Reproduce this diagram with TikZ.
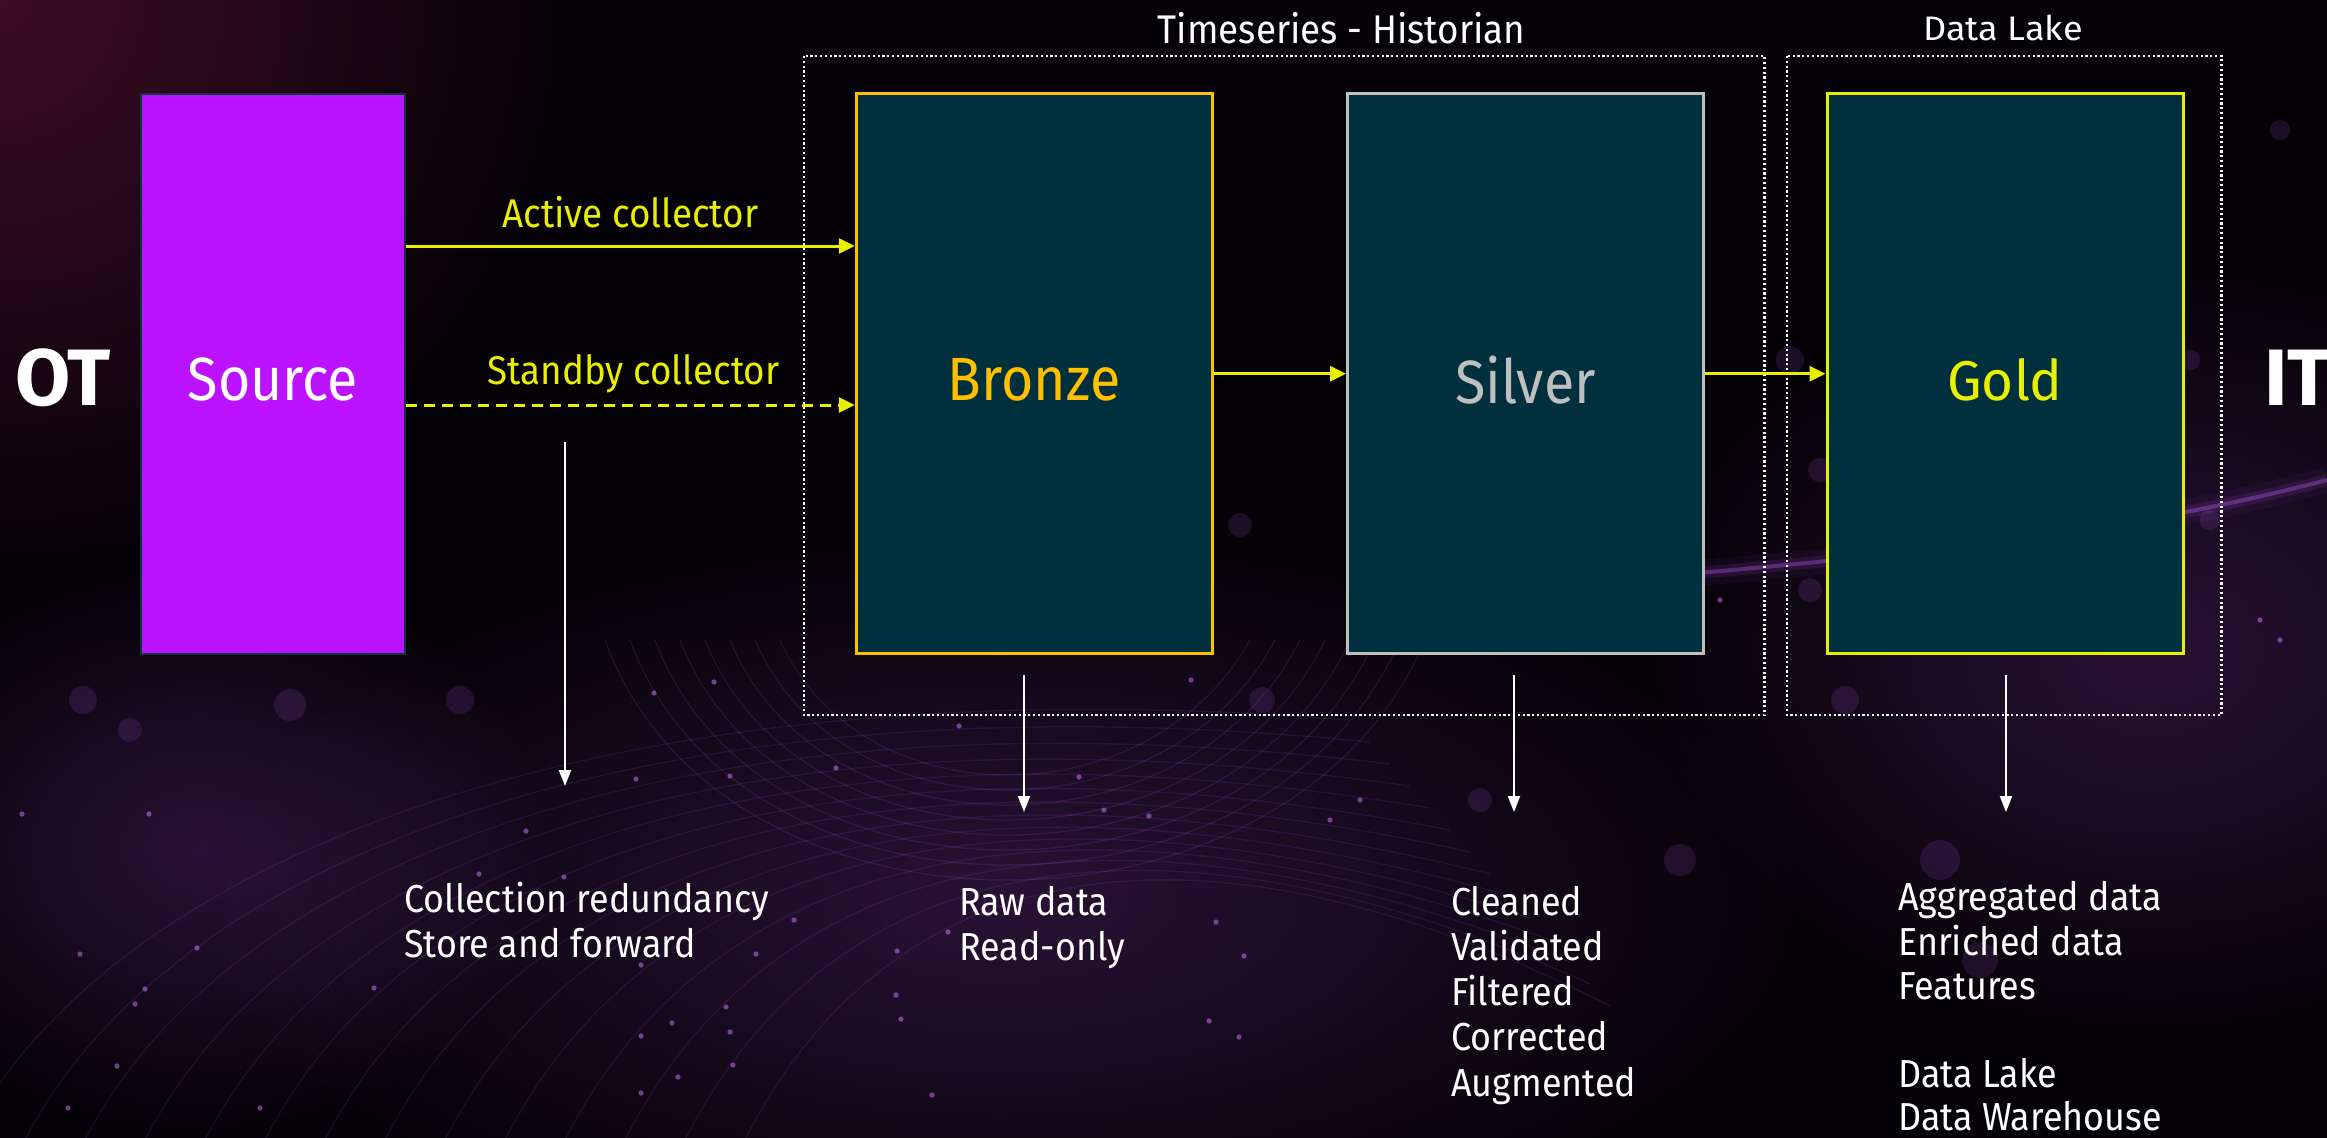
\documentclass[tikz,border=0pt]{standalone}
\usepackage{fontspec}
\setmainfont{Fira Sans}
\newfontfamily\lblfont[FakeStretch=0.92]{Fira Sans}
\newfontfamily\boxfont[FakeStretch=0.91]{Fira Sans}
\newfontfamily\goldfont[FakeStretch=0.98]{Fira Sans}
\newfontfamily\titlefont[FakeStretch=1.06]{Fira Sans}
\usetikzlibrary{arrows.meta}
\definecolor{bg}{HTML}{050207}
\definecolor{srcfill}{HTML}{BB13FF}
\definecolor{srcline}{HTML}{0E3440}
\definecolor{tealfill}{HTML}{00303D}
\definecolor{amber}{HTML}{FFC000}
\definecolor{silv}{HTML}{BFBFBF}
\definecolor{yel}{HTML}{E8F000}
\definecolor{glowred}{HTML}{3A0A1E}
\definecolor{glowpurple}{HTML}{24102F}
\definecolor{streak}{HTML}{7A35A8}
\definecolor{swirl}{HTML}{3A1D52}
\definecolor{spark}{HTML}{B060E0}
\definecolor{bokeh}{HTML}{3E1E55}
\tikzset{
  layerbox/.style={draw, line width=3pt, fill=tealfill, minimum width=356pt, minimum height=560pt, inner sep=0pt},
  boxtxt/.style={inner sep=0pt, font=\boxfont\fontsize{61}{72}\selectfont},
  grouplbl/.style={text=white, inner sep=0pt, font=\lblfont\fontsize{40}{48}\selectfont},
  dotbox/.style={draw=white, line width=2.2pt, dash pattern=on 2.2pt off 2.6pt},
  flow/.style={draw=yel, line width=3pt, -{Triangle[length=16pt,width=15pt]}},
  down/.style={draw=white, line width=2.2pt, -{Triangle[length=16pt,width=12pt]}},
  note/.style={text=white, anchor=base west, inner sep=0pt, font=\lblfont\fontsize{39}{46}\selectfont},
  flowlbl/.style={text=yel, anchor=base, inner sep=0pt, font=\lblfont\fontsize{40}{48}\selectfont},
  side/.style={text=white, inner sep=0pt, font=\bfseries\fontsize{80}{90}\selectfont},
}
\begin{document}
\begin{tikzpicture}[x=1pt,y=-1pt]
\clip (0,0) rectangle (2327,1138);
\useasboundingbox (0,0) rectangle (2327,1138);
% ---------- background ----------
\fill[bg] (0,0) rectangle (2327,1138);
\begin{scope}[blend mode=screen]
\shade[inner color=glowred, outer color=black] (0,0) circle (560);
\shade[inner color=glowpurple, outer color=black] (1000,900) ellipse (800 and 360);
\shade[inner color=glowpurple, outer color=black] (2150,650) ellipse (500 and 380);
\shade[inner color=glowpurple, outer color=black] (200,850) ellipse (350 and 280);
% swirl lines
\foreach \i in {0,...,13}{
  \draw[swirl, line width=1.3pt, opacity=0.35]
    (-40+\i*60,1150) .. controls (100+\i*60,860) and (600+\i*45,660+\i*10) .. (1350+\i*20,720+\i*22);
}
\foreach \i in {0,...,7}{
  \draw[swirl, line width=1.3pt, opacity=0.4]
    (780-\i*25,640) .. controls (860-\i*20,820+\i*20) and (1150+\i*20,820+\i*20) .. (1250+\i*25,640);
}
% purple streak
\draw[streak, line width=26pt, opacity=0.08] (1560,585) .. controls (1850,560) and (2100,540) .. (2327,480);
\draw[streak, line width=12pt, opacity=0.16] (1560,585) .. controls (1850,560) and (2100,540) .. (2327,480);
\draw[streak, line width=4pt, opacity=0.5] (1560,585) .. controls (1850,560) and (2100,540) .. (2327,480);
% bokeh
\foreach \x/\y/\r in {83/700/14,130/730/12,290/705/16,460/700/14,1130/200/14,1160/290/12,1190/420/10,1240/525/12,1262/700/13,1790/360/14,1820/470/12,1810/590/12,1845/700/14,1940/860/20,1980/960/18,2190/360/10,2210/520/10,1680/860/16,1480/800/12,2280/130/10}
  \fill[bokeh, opacity=0.4] (\x,\y) circle (\r);
% sparks
\foreach \x/\y in {636/779,730/776,836/768,526/831,564/877,479/874,794/920,756/954,641/965,374/988,197/948,80/954,145/989,135/1004,726/1007,672/1023,730/1032,641/1036,733/1065,678/1077,641/1093,932/1095,896/995,901/1019,948/932,897/951,1216/922,1244/956,1209/1021,1239/1037,1104/810,1149/816,1079/777,959/726,1191/680,22/814,149/814,260/1108,68/1108,117/1066,654/693,714/682,1330/820,1360/800,1700/590,1720/600,2260/620,2280/640}
  \fill[spark, opacity=0.6] (\x,\y) circle (2.6);
\end{scope}
% ---------- side labels ----------
\node[side] (ot) at (63,378) {OT};
\node[side, anchor=west] (it) at (2264,378) {IT};
% ---------- boxes ----------
\node[draw=srcline, line width=2pt, fill=srcfill, minimum width=264pt, minimum height=560pt, inner sep=0pt,
      label={[boxtxt, text=white, yshift=-6pt]center:Source}] (src) at (273,373.75) {};
\node[layerbox, draw=amber, label={[boxtxt, text=amber, yshift=-6pt]center:Bronze}] (brz) at (1034.25,373.75) {};
\node[layerbox, draw=silv, label={[boxtxt, text=silv, yshift=-6pt]center:Silver}] (slv) at (1525.5,373.75) {};
\node[layerbox, draw=yel, label={[inner sep=0pt, text=yel, yshift=-6pt, font=\goldfont\fontsize{56}{66}\selectfont]center:Gold}] (gld) at (2005,373.75) {};
% ---------- group frames ----------
\draw[dotbox] (804,56) rectangle (1764.5,715);
\draw[dotbox] (1787,56) rectangle (2221.5,715);
\node[grouplbl] (tslbl) at (1341.5,28) {Timeseries - Historian};
\node[text=white, inner sep=0pt, font=\titlefont\fontsize{34}{40}\selectfont] (dllbl) at (2003,28) {Data Lake};
% ---------- collectors ----------
\coordinate (ya) at (0,246);
\coordinate (ys) at (0,405);
\draw[flow] (src.east |- ya) -- node[midway, flowlbl, yshift=19pt] (actlbl) {Active collector} (brz.west |- ya);
\draw[flow, dash pattern=on 11pt off 7pt] (src.east |- ys) -- node[midway, flowlbl, yshift=21pt, xshift=3pt] (stblbl) {Standby collector} (brz.west |- ys);
\draw[flow] (brz.east) -- (slv.west);
\draw[flow] (slv.east) -- (gld.west);
% ---------- down arrows ----------
\coordinate (c1) at (565,442);  \coordinate (c2) at (565,786);
\coordinate (b1) at (1024,675); \coordinate (b2) at (1024,812);
\coordinate (s1) at (1514,675); \coordinate (s2) at (1514,812);
\coordinate (g1) at (2006,675); \coordinate (g2) at (2006,812);
\draw[down] (c1) -- (c2);
\draw[down] (b1) -- (b2);
\draw[down] (s1) -- (s2);
\draw[down] (g1) -- (g2);
% ---------- notes ----------
\node[note] (n1) at (404,912) {Collection redundancy};
\node[note] (n2) at (404,957) {Store and forward};
\node[note] (r1) at (959,915) {Raw data};
\node[note] (r2) at (959,960) {Read-only};
\node[note] (v1) at (1451,915) {Cleaned};
\node[note] (v2) at (1451,960.3) {Validated};
\node[note] (v3) at (1451,1005.6) {Filtered};
\node[note] (v4) at (1451,1050.9) {Corrected};
\node[note] (v5) at (1451,1096.2) {Augmented};
\node[note] (g1t) at (1898,910) {Aggregated data};
\node[note] (g2t) at (1898,955) {Enriched data};
\node[note] (g3t) at (1898,999.5) {Features};
\node[note] (g4t) at (1898,1087) {Data Lake};
\node[note] (g5t) at (1898,1130.5) {Data Warehouse};
\end{tikzpicture}
\end{document}
